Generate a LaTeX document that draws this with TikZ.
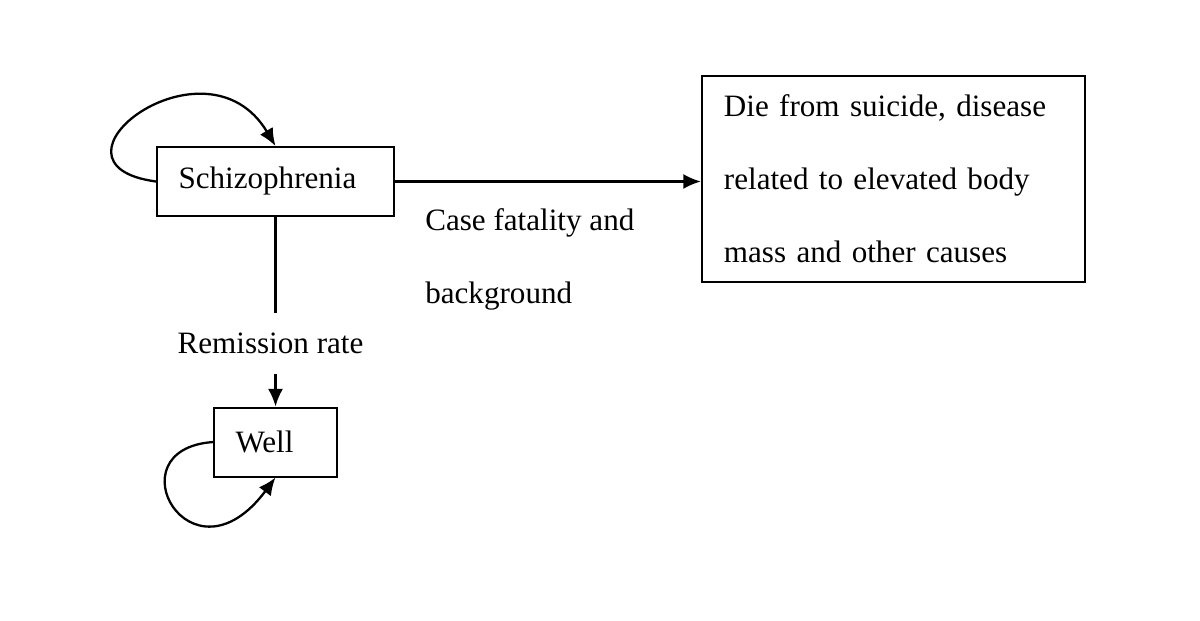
\documentclass[tikz,border=0pt]{standalone}
\usepackage{fontspec}
\setmainfont{Liberation Serif}
\usepackage{tikz}
\usetikzlibrary{arrows.meta,positioning,calc}

\begin{document}
\begin{tikzpicture}[
    state/.style={rectangle, draw, line width=1.1pt, minimum height=1.38cm, inner ysep=0pt, inner xsep=0.43cm, align=left},
    note/.style={inner sep=0pt, align=left},
    arrow/.style={-{Latex[length=10pt,width=8.5pt]}, line width=1.3pt}
]
\tikzset{every node/.style={font=\fontsize{17.7}{41.5}\selectfont}}
\useasboundingbox (0,0) rectangle (24,-12.42);

% States
\node[state, text width=3.88cm] (schiz) at (5.51,-3.63) {Schizophrenia};
\node[state, right=6.12cm of schiz, yshift=0.05cm, minimum height=4.12cm,
      text width=6.78cm, inner xsep=0.44cm] (die)
    {Die from suicide, disease\\related to elevated body\\mass and other causes};

% Remission
\node[inner sep=0pt, inner ysep=0.39cm, below=1.92cm of schiz, xshift=-0.1cm] (rem) {Remission rate};
\node[state, text width=1.6cm, below=0.66cm of schiz.south |- rem.south, anchor=north] (well) {Well};

% Fatality label
\node[note, anchor=north west, below right=0.54cm and 0.6cm of schiz.east] (case)
    {Case fatality and\\background};

% Transitions
\draw[arrow] (schiz.east) -- (schiz.east -| die.west);
\draw[line width=1.3pt] (schiz.south) -- (schiz.south |- rem.north);
\draw[arrow] (rem.south -| well.north) -- (well.north);

% Self loops
\draw[arrow] (schiz.west) .. controls +(-2.54,0.34) and +(-1.4,2.34) .. (schiz.north);
\draw[arrow] (well.west) .. controls +(-2.04,-0.14) and +(-1.7,-2.28) .. (well.south);

\end{tikzpicture}
\end{document}
